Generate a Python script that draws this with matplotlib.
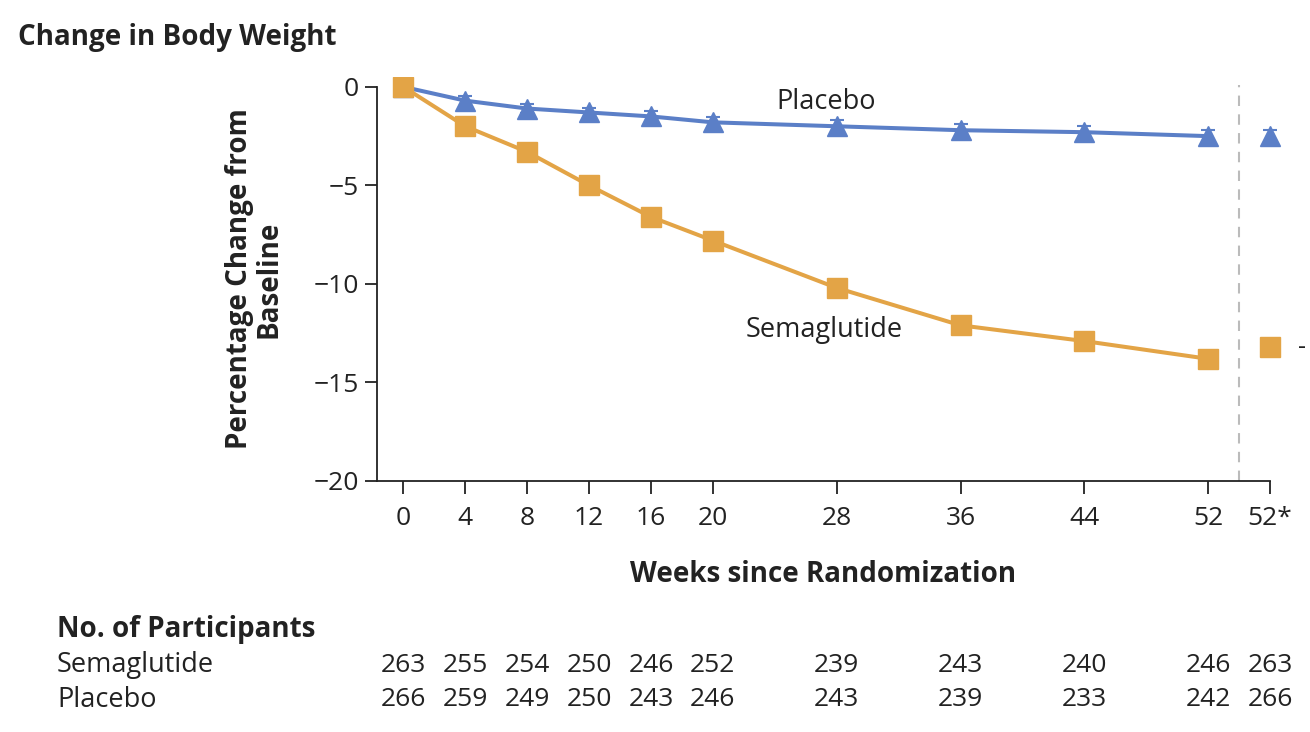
import numpy as np
import matplotlib.pyplot as plt

plt.rcParams['font.family'] = ['Open Sans', 'DejaVu Sans']

# weeks since randomization (52* is the extra point shown after the dashed line)
weeks = [0, 4, 8, 12, 16, 20, 28, 36, 44, 52]
star_pos = 56
tick_pos = weeks + [star_pos]
tick_labels = ['0', '4', '8', '12', '16', '20', '28', '36', '44', '52', '52*']

sema = [0, -2.0, -3.3, -5.0, -6.6, -7.8, -10.2, -12.1, -12.9, -13.8]
sema_err = [0.1, 0.2, 0.2, 0.2, 0.2, 0.2, 0.3, 0.3, 0.3, 0.3]
sema_star = -13.2
placebo = [0, -0.7, -1.1, -1.3, -1.5, -1.8, -2.0, -2.2, -2.3, -2.5]
placebo_err = [0.1, 0.25, 0.25, 0.25, 0.25, 0.25, 0.3, 0.3, 0.3, 0.3]
placebo_star = -2.5

n_sema = [263, 255, 254, 250, 246, 252, 239, 243, 240, 246, 263]
n_placebo = [266, 259, 249, 250, 243, 246, 243, 239, 233, 242, 266]

blue = '#5b7fc7'
orange = '#e3a446'
ink = '#222222'

fig = plt.figure(figsize=(13.1, 7.32), dpi=100)
ax = fig.add_axes([0.2878, 0.3429, 0.9695 - 0.2878, 0.8948 - 0.3429])

ax.plot(weeks, placebo, color=blue, lw=2.9, zorder=2)
ax.errorbar(weeks, placebo, yerr=placebo_err, fmt='^', color=blue, ms=15,
            capsize=5, elinewidth=1.5, capthick=1.5, zorder=3)
ax.errorbar([star_pos], [placebo_star], yerr=[0.3], fmt='^', color=blue, ms=15,
            capsize=5, elinewidth=1.5, capthick=1.5, zorder=3, clip_on=False)

ax.plot(weeks, sema, color=orange, lw=2.9, zorder=2)
ax.errorbar(weeks, sema, yerr=sema_err, fmt='s', color=orange, ms=14.5,
            capsize=5, elinewidth=1.5, capthick=1.5, zorder=4)
ax.plot([star_pos], [sema_star], 's', color=orange, ms=14.5, zorder=4, clip_on=False)

ax.axvline(54, color='#bbbbbb', lw=1.5, ls=(0, (5, 4)), ymax=0.98, zorder=1)

ax.text(27.3, -0.75, 'Placebo', fontsize=19.5, ha='center', va='center', color=ink)
ax.text(27.2, -12.35, 'Semaglutide', fontsize=19.5, ha='center', va='center', color=ink)
ax.text(57.8, -13.25, '-', fontsize=18, ha='left', va='center', color=ink,
        clip_on=False)

ax.set_xlim(-1.7, star_pos)
ax.set_ylim(-20, 0.5)
ax.set_xticks(tick_pos)
ax.set_xticklabels(tick_labels)
ax.set_yticks([0, -5, -10, -15, -20])
ax.set_yticklabels(['0', '−5', '−10', '−15', '−20'])
ax.tick_params(axis='both', labelsize=19, width=1.3, length=9, color=ink,
               labelcolor=ink)
ax.tick_params(axis='x', pad=9)
ax.tick_params(axis='y', pad=4)
for s in ['top', 'right']:
    ax.spines[s].set_visible(False)
for s in ['left', 'bottom']:
    ax.spines[s].set_linewidth(1.3)
    ax.spines[s].set_color(ink)
ax.spines['left'].set_bounds(-20, 0)

ax.set_xlabel('Weeks since Randomization', fontsize=20, fontweight='bold',
              labelpad=21, color=ink)
ax.set_ylabel('Percentage Change from\nBaseline', fontsize=20, fontweight='bold',
              labelpad=22, color=ink, linespacing=1.0)

fig.text(18 / 1310, 1 - 37 / 732, 'Change in Body Weight', fontsize=20,
         fontweight='bold', va='center', color=ink)

# number at risk table
fig.text(57 / 1310, 1 - 630 / 732, 'No. of Participants', fontsize=20,
         fontweight='bold', va='center', color=ink)
row_y = [1 - 665 / 732, 1 - 700 / 732]
for label, counts, yy in [('Semaglutide', n_sema, row_y[0]),
                          ('Placebo', n_placebo, row_y[1])]:
    fig.text(57 / 1310, yy, label, fontsize=19.5, va='center', color=ink)
    for xp, c in zip(tick_pos, counts):
        xd = ax.transData.transform((xp, 0))[0]
        xf = fig.transFigure.inverted().transform((xd, 0))[0]
        fig.text(xf, yy, str(c), fontsize=19, ha='center', va='center',
                 color=ink)

fig.savefig('out.png', dpi=100)
